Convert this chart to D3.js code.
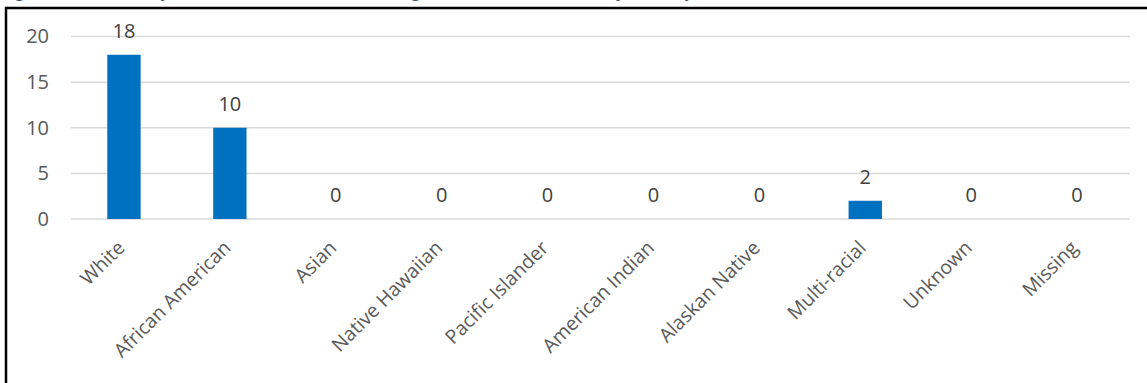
<!DOCTYPE html>
<html><head><meta charset="utf-8">
<script src="https://cdn.jsdelivr.net/npm/d3@7/dist/d3.min.js"></script>
<style>body{margin:0;background:#fff;}svg{display:block;}</style>
</head><body>
<svg id="c" width="1147" height="383"></svg>
<script>
const categories = ["White","African American","Asian","Native Hawaiian","Pacific Islander","American Indian","Alaskan Native","Multi-racial","Unknown","Missing"];
const values = [18,10,0,0,0,0,0,2,0,0];
const yTicks = [0,5,10,15,20];
const titleText = "Figure 3: Number of Individuals Served in the Program in the Fiscal Year by Race of Decedent Served";

const svg = d3.select("#c");
const font = "'Open Sans', 'Segoe UI', sans-serif";

// caption (cut off at top, as in the source)
svg.append("text").attr("x", 2).attr("y", -3)
  .attr("font-family", font).attr("font-style","italic").attr("font-size", 19)
  .attr("fill", "#44546A").text(titleText);

// frame
svg.append("line").attr("x1",5).attr("x2",1147).attr("y1",8).attr("y2",8).attr("stroke","#000").attr("stroke-width",2.5);
svg.append("line").attr("x1",6).attr("x2",6).attr("y1",7).attr("y2",383).attr("stroke","#000").attr("stroke-width",2.5);

const x = d3.scaleBand().domain(categories).range([71,1130]).paddingInner(0.685).paddingOuter(0.3425);
const y = d3.scaleLinear().domain([0,20]).range([219,36.5]);

// gridlines
svg.append("g").selectAll("line").data(yTicks).join("line")
  .attr("x1",71).attr("x2",1130).attr("y1",d=>y(d)).attr("y2",d=>y(d))
  .attr("stroke","#D9D9D9").attr("stroke-width",1.5);

// y axis
const ya = svg.append("g").attr("transform","translate(49,0)")
  .call(d3.axisLeft(y).tickValues(yTicks).tickSize(0).tickPadding(0));
ya.select(".domain").remove();
ya.selectAll("text").attr("font-family",font).attr("font-size",20).attr("fill","#595959");

// bars
svg.append("g").selectAll("rect").data(values).join("rect")
  .attr("x",(d,i)=>x(categories[i])).attr("width",x.bandwidth())
  .attr("y",d=>y(d)).attr("height",d=>y(0)-y(d)).attr("fill","#0070C0");

// value labels
svg.append("g").selectAll("text").data(values).join("text")
  .attr("x",(d,i)=>x(categories[i])+x.bandwidth()/2).attr("y",d=>y(d)-17)
  .attr("text-anchor","middle").attr("font-family",font).attr("font-size",20).attr("fill","#404040")
  .text(d=>d);

// category labels
const xa = svg.append("g").attr("transform",`translate(0,${y(0)})`)
  .call(d3.axisBottom(x).tickSize(0).tickPadding(0));
xa.select(".domain").remove();
xa.selectAll("text").attr("font-family",font).attr("font-size",19.5).attr("fill","#595959")
  .attr("text-anchor","end").attr("dy",null)
  .attr("transform","translate(2,30) rotate(-45)");
</script>
</body></html>
